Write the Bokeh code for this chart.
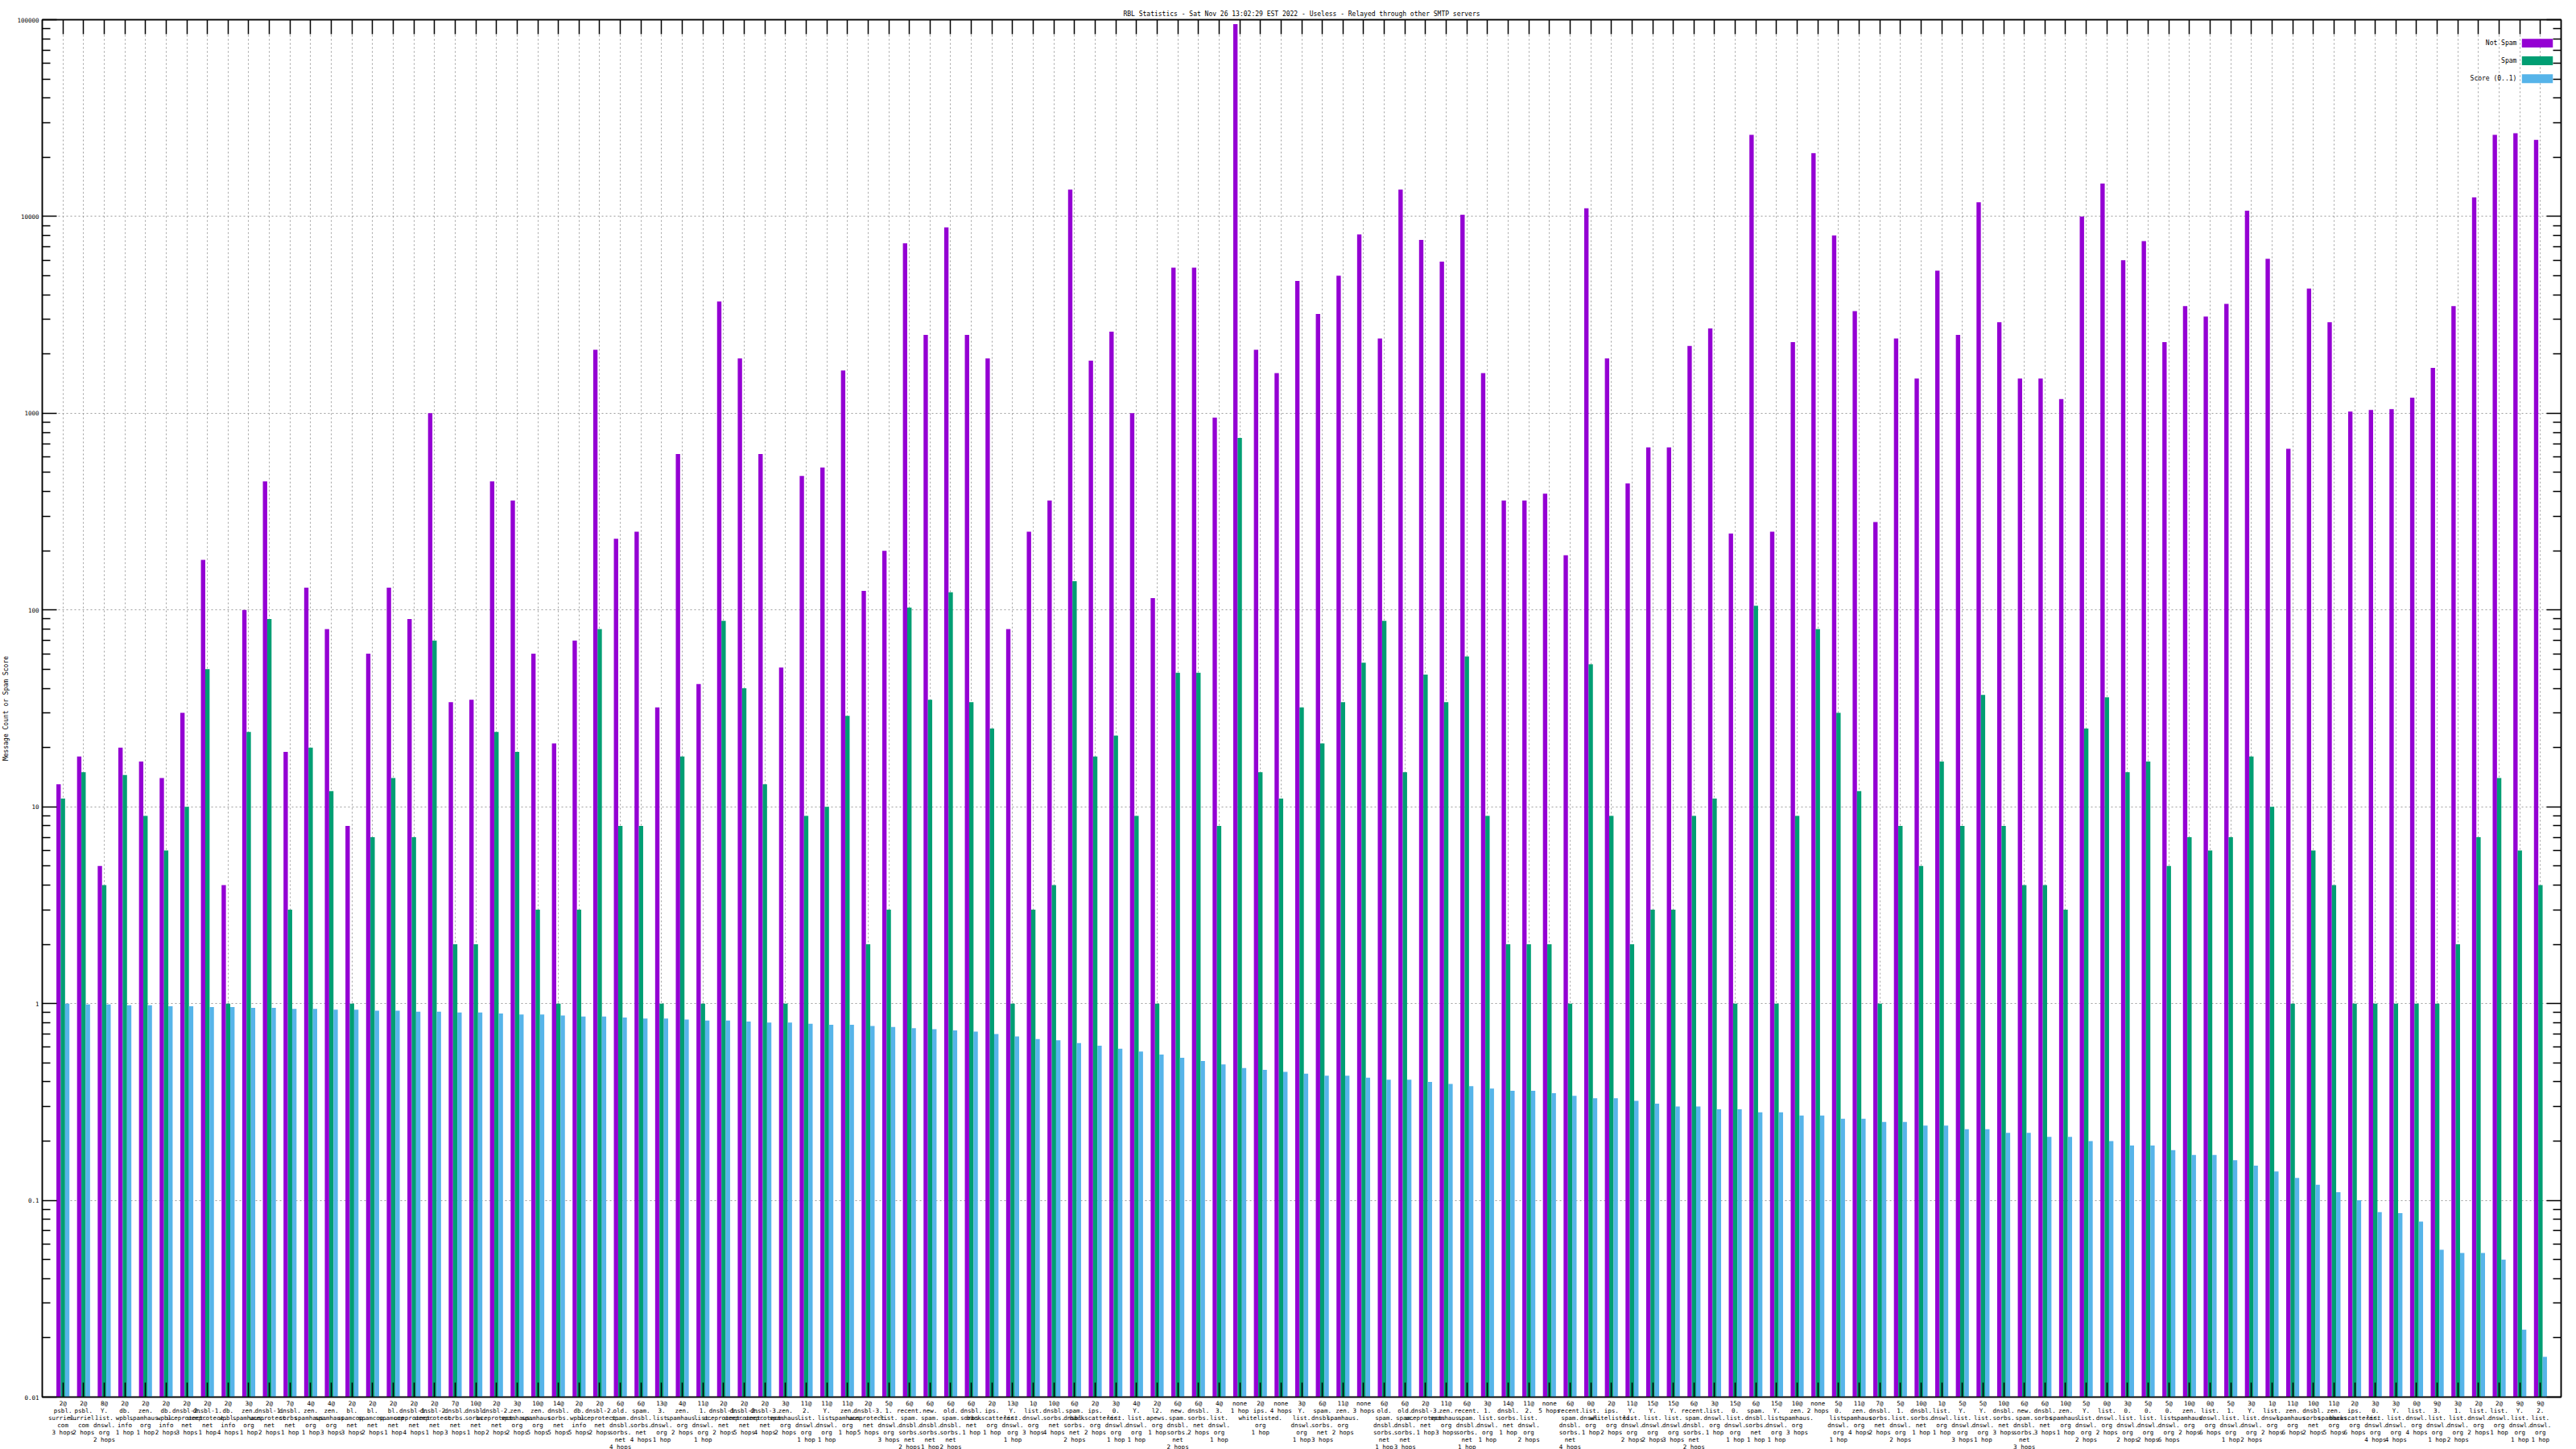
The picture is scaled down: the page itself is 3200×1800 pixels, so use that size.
from bokeh.plotting import figure
from bokeh.models import (FixedTicker, LinearAxis, LogAxis, CustomJSTickFormatter,
                          Range1d, ColumnDataSource)
from bokeh.transform import dodge
from bokeh.embed import file_html
from bokeh.resources import INLINE
from bokeh.core.properties import value

TITLE = "RBL Statistics - Sat Nov 26 13:02:29 EST 2022 - Useless - Relayed through other SMTP servers"

thresholds = [
    "2", "2", "8", "2", "2", "2", "2", "2", "2", "3",
    "2", "7", "4", "4", "2", "2", "2", "2", "2", "7",
    "10", "2", "3", "10", "14", "2", "2", "6", "6", "13",
    "4", "11", "2", "2", "2", "3", "11", "11", "11", "2",
    "5", "6", "6", "6", "6", "2", "13", "1", "10", "6",
    "2", "3", "4", "2", "6", "6", "4", "none", "2", "none",
    "3", "6", "11", "none", "6", "6", "2", "11", "6", "3",
    "14", "11", "none", "6", "0", "2", "11", "15", "15", "6",
    "3", "15", "6", "15", "10", "none", "5", "11", "7", "5",
    "10", "1", "5", "5", "10", "6", "6", "10", "5", "0",
    "3", "5", "5", "10", "0", "5", "3", "1", "11", "10",
    "11", "2", "3", "3", "0", "9", "3", "2", "2", "9",
    "9",
]

zones = [
    "psbl.surriel.com", "psbl.surriel.com", "Y.list.dnswl.org", "db.wpbl.info", "zen.spamhaus.org",
    "db.wpbl.info", "dnsbl-2.uceprotect.net", "dnsbl-1.uceprotect.net", "db.wpbl.info", "zen.spamhaus.org",
    "dnsbl-1.uceprotect.net", "dnsbl.sorbs.net", "zen.spamhaus.org", "zen.spamhaus.org", "bl.spamcop.net",
    "bl.spamcop.net", "bl.spamcop.net", "dnsbl-1.uceprotect.net", "dnsbl-2.uceprotect.net", "dnsbl.sorbs.net",
    "dnsbl.sorbs.net", "dnsbl-2.uceprotect.net", "zen.spamhaus.org", "zen.spamhaus.org", "dnsbl.sorbs.net",
    "db.wpbl.info", "dnsbl-2.uceprotect.net", "old.spam.dnsbl.sorbs.net", "spam.dnsbl.sorbs.net", "3.list.dnswl.org",
    "zen.spamhaus.org", "1.list.dnswl.org", "dnsbl-1.uceprotect.net", "dnsbl-2.uceprotect.net", "dnsbl-3.uceprotect.net",
    "zen.spamhaus.org", "2.list.dnswl.org", "Y.list.dnswl.org", "zen.spamhaus.org", "dnsbl-3.uceprotect.net",
    "1.list.dnswl.org", "recent.spam.dnsbl.sorbs.net", "new.spam.dnsbl.sorbs.net", "old.spam.dnsbl.sorbs.net", "dnsbl.sorbs.net",
    "ips.backscatterer.org", "Y.list.dnswl.org", "list.dnswl.org", "dnsbl.sorbs.net", "spam.dnsbl.sorbs.net",
    "ips.backscatterer.org", "0.list.dnswl.org", "Y.list.dnswl.org", "l2.apews.org", "new.spam.dnsbl.sorbs.net",
    "dnsbl.sorbs.net", "3.list.dnswl.org", "", "ips.whitelisted.org", "",
    "Y.list.dnswl.org", "spam.dnsbl.sorbs.net", "zen.spamhaus.org", "", "old.spam.dnsbl.sorbs.net",
    "old.spam.dnsbl.sorbs.net", "dnsbl-3.uceprotect.net", "zen.spamhaus.org", "recent.spam.dnsbl.sorbs.net", "1.list.dnswl.org",
    "dnsbl.sorbs.net", "2.list.dnswl.org", "", "recent.spam.dnsbl.sorbs.net", "list.dnswl.org",
    "ips.whitelisted.org", "Y.list.dnswl.org", "Y.list.dnswl.org", "Y.list.dnswl.org", "recent.spam.dnsbl.sorbs.net",
    "list.dnswl.org", "0.list.dnswl.org", "spam.dnsbl.sorbs.net", "Y.list.dnswl.org", "zen.spamhaus.org",
    "", "0.list.dnswl.org", "zen.spamhaus.org", "dnsbl.sorbs.net", "1.list.dnswl.org",
    "dnsbl.sorbs.net", "list.dnswl.org", "Y.list.dnswl.org", "Y.list.dnswl.org", "dnsbl.sorbs.net",
    "new.spam.dnsbl.sorbs.net", "dnsbl.sorbs.net", "zen.spamhaus.org", "Y.list.dnswl.org", "list.dnswl.org",
    "0.list.dnswl.org", "0.list.dnswl.org", "0.list.dnswl.org", "zen.spamhaus.org", "list.dnswl.org",
    "1.list.dnswl.org", "Y.list.dnswl.org", "list.dnswl.org", "zen.spamhaus.org", "dnsbl.sorbs.net",
    "zen.spamhaus.org", "ips.backscatterer.org", "0.list.dnswl.org", "Y.list.dnswl.org", "list.dnswl.org",
    "3.list.dnswl.org", "1.list.dnswl.org", "list.dnswl.org", "list.dnswl.org", "Y.list.dnswl.org",
    "2.list.dnswl.org",
]

hops = [
    3, 2, 2, 1, 1, 2, 3, 1, 4, 1,
    2, 1, 1, 3, 3, 2, 1, 4, 1, 3,
    1, 2, 2, 5, 5, 5, 2, 4, 4, 1,
    2, 1, 2, 5, 4, 2, 1, 1, 1, 5,
    3, 2, 1, 2, 1, 1, 1, 3, 4, 2,
    2, 1, 1, 1, 2, 2, 1, 1, 1, 4,
    1, 3, 2, 3, 1, 3, 1, 3, 1, 1,
    1, 2, 5, 4, 1, 2, 2, 2, 3, 2,
    1, 1, 1, 1, 3, 2, 1, 4, 2, 2,
    1, 1, 3, 1, 3, 3, 3, 1, 2, 2,
    2, 2, 6, 2, 6, 1, 2, 2, 6, 2,
    5, 6, 4, 4, 4, 1, 2, 2, 1, 1,
    1,
]

not_spam = [
    13, 18, 5, 20, 17, 14, 30, 180, 4, 100,
    450, 19, 130, 80, 8, 60, 130, 90, 1000, 34,
    35, 450, 360, 60, 21, 70, 2100, 230, 250, 32,
    620, 42, 3700, 1900, 620, 51, 480, 530, 1650, 125,
    200, 7300, 2500, 8800, 2500, 1900, 80, 250, 360, 13700,
    1850, 2600, 1000, 115, 5500, 5500, 950, 95000, 2100, 1600,
    4700, 3200, 5000, 8100, 2400, 13700, 7600, 5900, 10200, 1600,
    360, 360, 390, 190, 11000, 1900, 440, 670, 670, 2200,
    2700, 245, 26000, 250, 2300, 21000, 8000, 3300, 280, 2400,
    1500, 5300, 2500, 11800, 2900, 1500, 1500, 1180, 10000, 14700,
    6000, 7500, 2300, 3500, 3100, 3600, 10700, 6100, 660, 4300,
    2900, 1020, 1040, 1050, 1200, 1700, 3500, 12500, 26000, 26500,
    24500,
]

spam = [
    11, 15, 4, 14.5, 9, 6, 10, 50, 1, 24,
    90, 3, 20, 12, 1, 7, 14, 7, 70, 2,
    2, 24, 19, 3, 1, 3, 80, 8, 8, 1,
    18, 1, 88, 40, 13, 1, 9, 10, 29, 2,
    3, 103, 35, 123, 34, 25, 1, 3, 4, 140,
    18, 23, 9, 1, 48, 48, 8, 750, 15, 11,
    32, 21, 34, 54, 88, 15, 47, 34, 58, 9,
    2, 2, 2, 1, 53, 9, 2, 3, 3, 9,
    11, 1, 105, 1, 9, 80, 30, 12, 1, 8,
    5, 17, 8, 37, 8, 4, 4, 3, 25, 36,
    15, 17, 5, 7, 6, 7, 18, 10, 1, 6,
    4, 1, 1, 1, 1, 1, 2, 7, 14, 6,
    4,
]

score = [
    1.00, 0.99, 0.99, 0.98, 0.98, 0.97, 0.97, 0.96, 0.96, 0.95,
    0.95, 0.94, 0.94, 0.93, 0.93, 0.92, 0.92, 0.91, 0.91, 0.90,
    0.90, 0.89, 0.88, 0.88, 0.87, 0.86, 0.86, 0.85, 0.84, 0.84,
    0.83, 0.82, 0.82, 0.81, 0.80, 0.80, 0.79, 0.78, 0.78, 0.77,
    0.76, 0.75, 0.74, 0.73, 0.72, 0.70, 0.68, 0.66, 0.65, 0.63,
    0.61, 0.59, 0.57, 0.55, 0.53, 0.51, 0.49, 0.47, 0.46, 0.45,
    0.44, 0.43, 0.43, 0.42, 0.41, 0.41, 0.40, 0.39, 0.38, 0.37,
    0.36, 0.36, 0.35, 0.34, 0.33, 0.33, 0.32, 0.31, 0.30, 0.30,
    0.29, 0.29, 0.28, 0.28, 0.27, 0.27, 0.26, 0.26, 0.25, 0.25,
    0.24, 0.24, 0.23, 0.23, 0.22, 0.22, 0.21, 0.21, 0.20, 0.20,
    0.19, 0.19, 0.18, 0.17, 0.17, 0.16, 0.15, 0.14, 0.13, 0.12,
    0.11, 0.10, 0.087, 0.086, 0.078, 0.056, 0.054, 0.054, 0.050, 0.022,
    0.016,
]

series_names = ["Not Spam", "Spam", "Score (0..1)"]
colors = ["#9400D3", "#009E73", "#56B4E9"]
y_major = [0.01, 0.1, 1, 10, 100, 1000, 10000, 100000]


def make_label(thr, zone, h):
    hop_txt = "1 hop" if h == 1 else f"{h} hops"
    if thr == "none":
        return f"none\n{hop_txt}"
    parts = zone.split(".")
    lines = [s + "." for s in parts[:-1]] + [parts[-1]]
    return f"{thr}@\n" + "\n".join(lines) + f"\n{hop_txt}"


labels = [make_label(t, z, h) for t, z, h in zip(thresholds, zones, hops)]
N = len(labels)
idx = list(range(N))

FONT = "DejaVu Sans Mono"

src = ColumnDataSource(dict(x=idx, ns=not_spam, sp=spam, sc=score))

p = figure(frame_width=3129, frame_height=1711, y_axis_type="log",
           x_range=Range1d(-1, N), y_range=Range1d(0.01, 100000),
           output_backend="svg", toolbar_location=None, title=TITLE,
           min_border_left=47, min_border_top=24, min_border_right=8, min_border_bottom=0)

p.title.align = "center"
p.title.text_font = FONT
p.title.text_font_size = "8px"
p.title.text_font_style = "normal"
p.title.text_color = "black"
p.title.standoff = 6
p.title.offset = 0

bw = 0.21
for col, off, c in zip(["ns", "sp", "sc"], [-bw, 0.0, bw], colors):
    p.vbar(x=dodge("x", off, range=p.x_range), top=col, bottom=0.01, width=bw,
           source=src, fill_color=c, line_color=None)

# axes
x_ticker = FixedTicker(ticks=idx, minor_ticks=[])
minor = [m * 10.0 ** e for e in range(-2, 5) for m in range(2, 10)]
y_ticker = FixedTicker(ticks=y_major, minor_ticks=minor)

xa = p.xaxis[0]
xa.ticker = x_ticker
xa.major_label_overrides = {i: labels[i] for i in idx}
ya = p.yaxis[0]
ya.ticker = y_ticker
ya.formatter = CustomJSTickFormatter(code="return tick.toString();")
ya.axis_label = "Message Count or Spam Score"
ya.axis_label_text_font = FONT
ya.axis_label_text_font_size = "8px"
ya.axis_label_text_font_style = "normal"
ya.axis_label_text_color = "black"
ya.axis_label_standoff = 6

top_axis = LinearAxis(ticker=x_ticker, formatter=CustomJSTickFormatter(code="return '';"))
right_axis = LogAxis(ticker=y_ticker, formatter=CustomJSTickFormatter(code="return '';"))
p.add_layout(top_axis, "above")
p.add_layout(right_axis, "right")

for ax in [xa, ya, top_axis, right_axis]:
    ax.major_tick_in = 18
    ax.major_tick_out = 0
    ax.minor_tick_in = 10
    ax.minor_tick_out = 0
    ax.axis_line_color = "black"
    ax.axis_line_width = 1.5
    ax.major_tick_line_color = "black"
    ax.minor_tick_line_color = "black"
    ax.major_tick_line_width = 1.5
    ax.minor_tick_line_width = 1.5
    ax.major_label_text_font = FONT
    ax.major_label_text_font_size = "7.5px"
    ax.major_label_text_color = "black"
    ax.major_label_standoff = 4

xa.major_label_standoff = 3
xa.major_label_text_line_height = 1.0
xa.major_label_orientation = "horizontal"
top_axis.major_label_standoff = 0
right_axis.major_label_standoff = 0

p.xgrid.ticker = x_ticker
p.ygrid.ticker = FixedTicker(ticks=y_major)
for g in [p.xgrid, p.ygrid]:
    g.grid_line_color = "#a0a0a0"
    g.grid_line_dash = "2 3"
    g.grid_line_width = 1

p.outline_line_color = "black"
p.outline_line_width = 1.5
p.background_fill_color = "white"
p.border_fill_color = "white"

# legend (gnuplot style: text on the left, swatch on the right)
leg_y = [76000, 61800, 50200]
leg_src = ColumnDataSource(dict(
    name=series_names, color=colors, y=leg_y,
    top=[v * 1.053 for v in leg_y], bottom=[v / 1.053 for v in leg_y],
    left=[N - 1.9] * 3, right=[N - 0.4] * 3, tx=[N - 2.15] * 3))
p.quad(left="left", right="right", top="top", bottom="bottom", fill_color="color",
       line_color=None, source=leg_src)
p.text(x="tx", y="y", text="name", source=leg_src, text_align="right",
       text_baseline="middle", text_font=value(FONT), text_font_size="8px",
       text_color="black")

open("out.html", "w").write(file_html(p, INLINE))
